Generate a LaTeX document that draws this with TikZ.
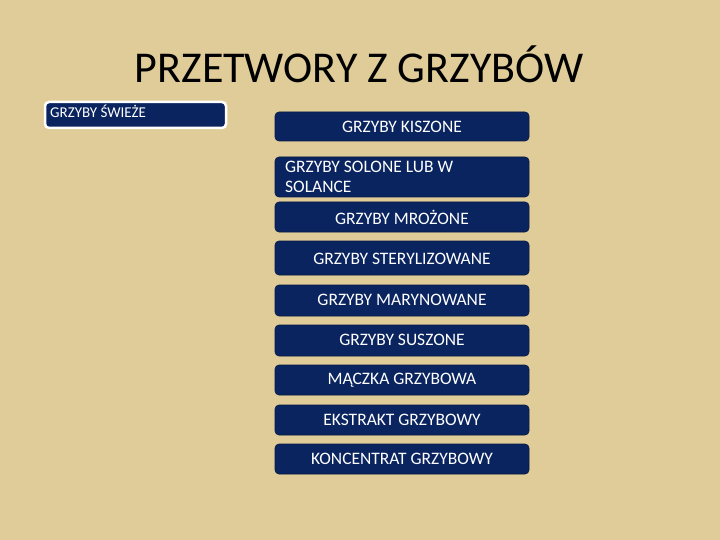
\documentclass[tikz,border=0pt]{standalone}
\usepackage{fontspec}
\setmainfont{Carlito}
\definecolor{bg}{RGB}{224,204,152}
\definecolor{navy}{RGB}{10,36,96}
\begin{document}
\begin{tikzpicture}[x=1pt,y=-1pt,
  box/.style={draw=navy!70!black,fill=navy,rounded corners=4pt,line width=0.6pt},
  lbl/.style={text=white,font=\fontsize{17.5}{20}\selectfont,inner sep=0pt}]
\fill[bg] (0,0) rectangle (720,540);
\useasboundingbox (0,0) rectangle (720,540);
\node[font=\fontsize{44}{48}\selectfont,inner sep=0pt,anchor=base] (title) at (359,83) {PRZETWORY Z GRZYBÓW};
% left box
\draw[box,draw=white,line width=2.5pt] (45,102) rectangle (226,128);
\node[lbl,anchor=base west,font=\fontsize{15}{17}\selectfont] (swieze) at (50,118) {GRZYBY ŚWIEŻE};
% right boxes
\draw[box] (275,112) rectangle (529,141);
\node[lbl] (kiszone) at (402,127) {GRZYBY KISZONE};
\draw[box] (275,157) rectangle (529,197);
\node[lbl,anchor=west,align=left] (solone) at (285,177) {GRZYBY SOLONE LUB W\\SOLANCE};
\draw[box] (275,202) rectangle (529,232);
\node[lbl] (mrozone) at (402,217) {GRZYBY MROŻONE};
\draw[box] (275,241) rectangle (529,275);
\node[lbl] (steryl) at (402,259) {GRZYBY STERYLIZOWANE};
\draw[box] (275,285) rectangle (529,316);
\node[lbl] (maryn) at (402,300) {GRZYBY MARYNOWANE};
\draw[box] (275,325) rectangle (529,356);
\node[lbl] (susz) at (402,340) {GRZYBY SUSZONE};
\draw[box] (275,365) rectangle (529,395);
\node[lbl] (maczka) at (402,380) {MĄCZKA GRZYBOWA};
\draw[box] (275,405) rectangle (529,435);
\node[lbl] (ekstr) at (402,420) {EKSTRAKT GRZYBOWY};
\draw[box] (275,444) rectangle (529,474);
\node[lbl] (konc) at (402,459) {KONCENTRAT GRZYBOWY};
\end{tikzpicture}
\end{document}
